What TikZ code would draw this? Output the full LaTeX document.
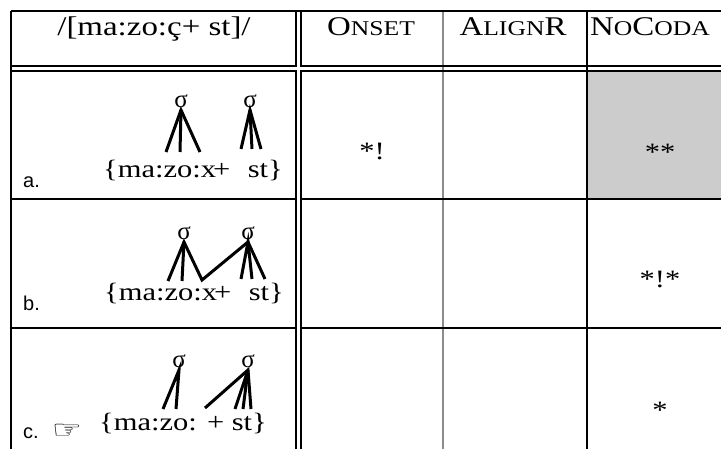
\documentclass[tikz,border=0pt]{standalone}
\usepackage{fontspec}
\setmainfont{Liberation Serif}[FakeStretch=1.22]
\newfontfamily\sigfont{Liberation Serif}
\newfontfamily\labfont{Liberation Sans}
\newfontfamily\handfont{DejaVu Sans}[FakeStretch=1.35]
\newcommand{\smc}[1]{{\fontsize{21}{21}\selectfont #1}}
\begin{document}
\begin{tikzpicture}[x=1pt,y=-1pt,
  rule/.style={line width=2.5pt,black},
  greyrule/.style={line width=2pt,black!45},
  tree/.style={line width=3pt},
  head/.style={anchor=base,inner sep=0pt,font=\fontsize{27}{27}\selectfont},
  txt/.style={anchor=base,inner sep=0pt,font=\fontsize{25}{25}\selectfont},
  star/.style={anchor=base,inner sep=0pt,font=\fontsize{25}{25}\selectfont},
  lab/.style={anchor=base west,inner sep=0pt,font=\labfont\fontsize{20}{20}\selectfont},
  sig/.style={anchor=south,inner sep=0pt,outer ysep=2pt,font=\sigfont\fontsize{25}{25}\selectfont}]
\useasboundingbox (0,0) rectangle (721,449);
% shaded cell
\fill[black!20] (587,71) rectangle (721,199);
% column rules
\draw[greyrule] (443,11) -- (443,449);
\draw[rule] (587,11) -- (587,449);
% header
\draw[rule] (11,11) -- (721,11);
\draw[rule] (11,11) -- (11,449);
\draw[rule] (11,66) -- (296,66) -- (296,11);
\draw[rule] (301,11) -- (301,66) -- (721,66);
\draw[rule] (11,71) -- (296,71) -- (296,449);
\draw[rule] (721,71) -- (301,71) -- (301,449);
% row rules
\draw[rule] (11,199) -- (296,199);
\draw[rule] (301,199) -- (721,199);
\draw[rule] (11,328) -- (296,328);
\draw[rule] (301,328) -- (721,328);
% header texts
\node[head] (h0) at (154,36) {/[ma:zo:ç+ st]/};
\node[head] (h1) at (371,36) {O\smc{NSET}};
\node[head] (h2) at (513,36) {A\smc{LIGN}R};
\node[head] (h3) at (650,36) {N\smc{O}C\smc{ODA}};
% row a
\node[lab] (la) at (23,188) {a.};
\node[txt] (fa) at (193,178) {\{ma:zo:x\kern-3pt+\hspace{0.4em} st\}};
\node[sig] (sa1) at (181,110) {σ};
\node[sig] (sa2) at (250,110) {σ};
\coordinate (a1) at (166,152); \coordinate (a2) at (180,152); \coordinate (a3) at (200,152);
\coordinate (a4) at (241,149); \coordinate (a5) at (252,149); \coordinate (a6) at (261,149);
\draw[tree] (a1) -- (sa1.south) -- (a3);
\draw[tree] (sa1.south) -- (a2);
\draw[tree] (a4) -- (sa2.south) -- (a6);
\draw[tree] (sa2.south) -- (a5);
\node[star] (ca1) at (372,160) {*!};
\node[star] (ca3) at (660,161) {**};
% row b
\node[lab] (lb) at (23,311) {b.};
\node[txt] (fb) at (194,301) {\{ma:zo:x\kern-3pt+\hspace{0.4em} st\}};
\node[sig] (sb1) at (184,242) {σ};
\node[sig] (sb2) at (248,242) {σ};
\coordinate (b1) at (168,281); \coordinate (b2) at (182,281); \coordinate (b3) at (202,280);
\coordinate (b4) at (241,279); \coordinate (b5) at (252,279); \coordinate (b6) at (265,279);
\draw[tree] (b1) -- (sb1.south) -- (b3) -- (sb2.south) -- (b6);
\draw[tree] (sb1.south) -- (b2);
\draw[tree] (b4) -- (sb2.south) -- (b5);
\node[star] (cb3) at (660,288) {*!*};
% row c
\node[lab] (lc) at (23,438) {c.};
\node[anchor=center,inner sep=0pt,font=\handfont\fontsize{25}{25}\selectfont] (hand) at (67,431) {☞};
\node[txt] (fc) at (183,430) {\{ma:zo: + st\}};
\node[sig] (sc1) at (179,370) {σ};
\node[sig] (sc2) at (248,370) {σ};
\coordinate (c1) at (163,409); \coordinate (c2) at (176,409);
\coordinate (c3) at (205,408); \coordinate (c4) at (235,409); \coordinate (c5) at (243,409); \coordinate (c6) at (251,409);
\draw[tree] (c1) -- (sc1.south) -- (c2);
\draw[tree] (c3) -- (sc2.south) -- (c6);
\draw[tree] (c4) -- (sc2.south) -- (c5);
\node[star] (cc3) at (660,418) {*};
\end{tikzpicture}
\end{document}
